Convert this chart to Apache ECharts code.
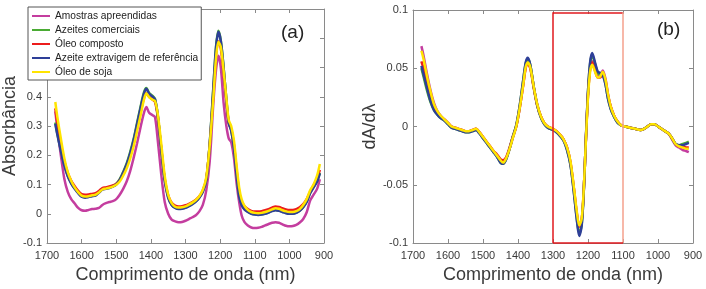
<!DOCTYPE html>
<html>
<head>
<meta charset="utf-8">
<script src="https://cdn.jsdelivr.net/npm/echarts@6/dist/echarts.min.js"></script>
<style>
html,body{margin:0;padding:0;background:#fff;}
#chart{width:706px;height:289px;}
</style>
</head>
<body>
<div id="chart"></div>
<script>
// ---------- DATA ----------
const seriesNames = ['Amostras apreendidas','Azeites comerciais','Óleo composto','Azeite extravigem de referência','Óleo de soja'];
const xTicks = [1700,1600,1500,1400,1300,1200,1100,1000,900];

// Panel (a): absorbance spectra
const wlA = [1676,1670,1660,1650,1640,1630,1620,1610,1600,1590,1580,1570,1560,1550,1540,1530,1520,1510,1500,1490,1480,1470,1460,1450,1440,1430,1420,1413,1405,1395,1388,1380,1370,1360,1350,1340,1330,1320,1310,1300,1290,1280,1270,1260,1250,1240,1230,1220,1212,1205,1198,1190,1182,1175,1168,1160,1152,1145,1138,1130,1120,1110,1100,1090,1080,1070,1060,1050,1040,1030,1020,1010,1000,990,980,970,960,950,940,930,920,912];
const absAmostras = [0.35,0.29,0.2,0.12,0.075,0.05,0.035,0.02,0.012,0.01,
0.013,0.016,0.017,0.02,0.03,0.036,0.04,0.043,0.05,0.065,
0.085,0.11,0.145,0.19,0.24,0.295,0.345,0.365,0.345,0.337,
0.33,0.25,0.135,0.04,0.0,-0.02,-0.026,-0.029,-0.028,-0.024,
-0.018,-0.012,-0.005,0.008,0.03,0.08,0.18,0.37,0.49,0.54,
0.5,0.38,0.3,0.257,0.245,0.19,0.1,0.04,-0.005,-0.028,
-0.04,-0.047,-0.049,-0.048,-0.045,-0.04,-0.035,-0.031,-0.029,-0.031,
-0.036,-0.041,-0.043,-0.042,-0.038,-0.03,-0.018,0.005,0.045,0.065,
0.085,0.118];
const absComerciais = [0.312,0.273,0.218,0.168,0.13,0.105,0.087,0.072,0.06,0.057,
0.059,0.062,0.064,0.075,0.085,0.088,0.09,0.095,0.102,0.118,
0.143,0.172,0.21,0.255,0.31,0.365,0.415,0.43,0.413,0.403,
0.393,0.335,0.22,0.115,0.056,0.031,0.021,0.017,0.018,0.021,
0.027,0.034,0.043,0.056,0.076,0.116,0.242,0.425,0.57,0.626,
0.592,0.5,0.39,0.31,0.285,0.225,0.13,0.062,0.032,0.017,
0.007,0.001,-0.002,-0.003,-0.002,0.001,0.005,0.01,0.013,0.011,
0.007,0.003,0.001,0.001,0.004,0.011,0.023,0.042,0.072,0.092,
0.112,0.14];
const absComposto = [0.36,0.31,0.24,0.18,0.14,0.113,0.094,0.078,0.067,0.065,
0.066,0.068,0.07,0.078,0.088,0.09,0.093,0.097,0.103,0.115,
0.136,0.163,0.197,0.24,0.293,0.345,0.395,0.413,0.4,0.39,
0.382,0.33,0.225,0.12,0.063,0.038,0.028,0.025,0.026,0.029,
0.034,0.04,0.048,0.06,0.08,0.12,0.235,0.4,0.54,0.59,
0.565,0.48,0.38,0.31,0.29,0.235,0.145,0.075,0.042,0.026,
0.016,0.01,0.008,0.008,0.009,0.012,0.016,0.021,0.025,0.023,
0.019,0.015,0.013,0.013,0.016,0.022,0.033,0.05,0.075,0.098,
0.12,0.15];
const absReferencia = [0.308,0.27,0.215,0.165,0.128,0.103,0.085,0.07,0.058,0.055,
0.057,0.06,0.062,0.072,0.082,0.085,0.088,0.093,0.1,0.115,
0.14,0.168,0.205,0.25,0.305,0.36,0.41,0.427,0.41,0.4,
0.39,0.335,0.22,0.115,0.055,0.03,0.02,0.016,0.017,0.02,
0.026,0.033,0.042,0.055,0.075,0.115,0.24,0.42,0.565,0.622,
0.59,0.5,0.39,0.31,0.285,0.225,0.13,0.06,0.03,0.015,
0.006,0.0,-0.003,-0.004,-0.003,0.0,0.004,0.009,0.012,0.01,
0.006,0.002,0.0,0.0,0.003,0.01,0.022,0.04,0.07,0.09,
0.11,0.138];
const absSoja = [0.382,0.33,0.257,0.19,0.142,0.112,0.09,0.074,0.062,0.059,
0.06,0.063,0.065,0.073,0.083,0.086,0.089,0.093,0.099,0.11,
0.13,0.155,0.188,0.23,0.282,0.335,0.39,0.412,0.398,0.39,
0.385,0.34,0.24,0.13,0.065,0.036,0.024,0.021,0.022,0.025,
0.031,0.038,0.047,0.06,0.082,0.125,0.235,0.39,0.53,0.588,
0.57,0.49,0.395,0.32,0.3,0.25,0.16,0.09,0.05,0.028,
0.013,0.006,0.003,0.002,0.003,0.006,0.01,0.015,0.019,0.017,
0.012,0.008,0.006,0.006,0.009,0.016,0.03,0.05,0.08,0.1,
0.13,0.17];

// Panel (b): first derivative
const wlB = [1676,1670,1660,1650,1640,1630,1620,1610,1600,1590,1580,1570,1560,1550,1540,1530,1520,1510,1500,1490,1480,1470,1460,1450,1443,1435,1425,1415,1405,1395,1385,1378,1372,1365,1355,1345,1335,1325,1315,1300,1290,1280,1270,1260,1250,1240,1232,1225,1218,1212,1206,1200,1194,1188,1180,1172,1165,1158,1150,1143,1135,1125,1115,1105,1095,1080,1065,1050,1040,1030,1020,1010,1000,990,980,970,960,950,940,930,920,912];
const derAmostras = [0.069,0.061,0.045,0.031,0.02,0.013,0.009,0.006,0.003,0.0,
-0.001,-0.002,-0.003,-0.004,-0.004,-0.003,-0.002,-0.005,-0.009,-0.013,
-0.017,-0.021,-0.025,-0.029,-0.031,-0.028,-0.02,-0.01,0.0,0.016,
0.036,0.051,0.055,0.051,0.034,0.019,0.009,0.003,0.0,-0.002,
-0.004,-0.007,-0.011,-0.018,-0.031,-0.054,-0.074,-0.085,-0.08,-0.054,
-0.011,0.027,0.05,0.056,0.049,0.044,0.044,0.048,0.041,0.028,
0.017,0.009,0.004,0.001,0.0,-0.001,-0.002,-0.003,-0.002,0.0,
0.002,0.002,0.0,-0.002,-0.004,-0.006,-0.011,-0.016,-0.018,-0.02,
-0.021,-0.022];
const derComerciais = [0.05,0.043,0.031,0.021,0.014,0.01,0.007,0.005,0.002,-0.001,
-0.002,-0.003,-0.004,-0.005,-0.005,-0.004,-0.003,-0.006,-0.01,-0.014,
-0.018,-0.022,-0.026,-0.031,-0.032,-0.029,-0.02,-0.009,0.001,0.018,
0.04,0.054,0.058,0.053,0.034,0.018,0.008,0.002,-0.001,-0.003,
-0.005,-0.008,-0.012,-0.02,-0.033,-0.057,-0.079,-0.092,-0.084,-0.055,
-0.01,0.03,0.054,0.061,0.054,0.046,0.045,0.045,0.036,0.024,
0.015,0.008,0.003,0.001,0.0,-0.001,-0.002,-0.003,-0.002,0.0,
0.002,0.002,0.0,-0.002,-0.004,-0.006,-0.01,-0.015,-0.016,-0.015,
-0.014,-0.013];
const derComposto = [0.056,0.05,0.038,0.026,0.017,0.012,0.008,0.006,0.003,0.0,
-0.001,-0.002,-0.003,-0.004,-0.004,-0.003,-0.002,-0.005,-0.009,-0.013,
-0.017,-0.021,-0.024,-0.028,-0.029,-0.027,-0.019,-0.009,0.0,0.016,
0.036,0.05,0.054,0.05,0.033,0.018,0.009,0.003,0.0,-0.002,
-0.004,-0.007,-0.011,-0.018,-0.031,-0.054,-0.075,-0.086,-0.08,-0.054,
-0.011,0.027,0.049,0.055,0.048,0.042,0.042,0.046,0.039,0.027,
0.017,0.009,0.004,0.001,0.0,-0.001,-0.002,-0.003,-0.002,0.0,
0.002,0.002,0.0,-0.002,-0.004,-0.006,-0.01,-0.015,-0.017,-0.017,
-0.018,-0.018];
const derReferencia = [0.052,0.045,0.033,0.022,0.014,0.01,0.007,0.005,0.002,-0.001,
-0.002,-0.003,-0.004,-0.005,-0.005,-0.004,-0.003,-0.006,-0.01,-0.014,
-0.018,-0.022,-0.026,-0.031,-0.032,-0.029,-0.02,-0.009,0.001,0.018,
0.04,0.055,0.059,0.053,0.034,0.018,0.008,0.002,-0.001,-0.003,
-0.005,-0.008,-0.012,-0.02,-0.033,-0.058,-0.08,-0.094,-0.085,-0.055,
-0.01,0.03,0.055,0.063,0.055,0.047,0.046,0.044,0.036,0.024,
0.015,0.008,0.003,0.001,0.0,-0.001,-0.002,-0.003,-0.002,0.0,
0.002,0.002,0.0,-0.002,-0.004,-0.006,-0.01,-0.015,-0.016,-0.016,
-0.015,-0.014];
const derSoja = [0.065,0.058,0.043,0.03,0.019,0.013,0.009,0.006,0.003,0.0,
-0.001,-0.002,-0.003,-0.004,-0.004,-0.003,-0.002,-0.005,-0.009,-0.013,
-0.017,-0.021,-0.025,-0.029,-0.031,-0.028,-0.02,-0.01,0.0,0.016,
0.036,0.051,0.055,0.051,0.034,0.019,0.009,0.003,0.0,-0.002,
-0.004,-0.007,-0.011,-0.018,-0.03,-0.053,-0.073,-0.085,-0.079,-0.053,
-0.012,0.025,0.047,0.053,0.047,0.042,0.043,0.047,0.04,0.028,
0.017,0.009,0.004,0.001,0.0,-0.001,-0.002,-0.003,-0.002,0.0,
0.002,0.002,0.0,-0.002,-0.004,-0.006,-0.01,-0.015,-0.017,-0.018,
-0.019,-0.019];

// Highlighted region in panel (b): [wavelength left, wavelength right, dA low, dA high]
const regionB = [1300, 1100, -0.1, 0.098];

// ---------- STYLE ----------
const colors = ['#c43d9f','#4aab34','#ec1c1c','#2e3f98','#ffe400'];
const FONT = 'Liberation Sans, Arial, sans-serif';
const axisGray = '#8a8a8a';
const textGray = '#3a3a3a';

function pairs(xs, ys){ return xs.map((x,i)=>[x, ys[i]]); }
function fmt(v){ return String(Math.round(v*1000)/1000); }
function fmtA(v){ return v > 0.45 ? '' : fmt(v); }

function xAxes(grid){
  const base = {gridIndex:grid, type:'value', min:900, max:1700, interval:100, inverse:true,
    splitLine:{show:false},
    axisLine:{onZero:false, lineStyle:{color:axisGray, width:1}},
    axisTick:{inside:true, length:4, lineStyle:{color:axisGray}}};
  return [
    Object.assign({}, base, {position:'bottom',
      name:'Comprimento de onda (nm)', nameLocation:'middle', nameGap:23,
      nameTextStyle:{fontSize:18, color:textGray, fontFamily:FONT},
      axisLabel:{fontSize:11, color:textGray, margin:7, fontFamily:FONT, formatter:(v)=>String(v)}}),
    Object.assign({}, base, {position:'top', axisLabel:{show:false}})
  ];
}
function yAxes(grid, min, max, interval, name, gap, formatter){
  const base = {gridIndex:grid, type:'value', min:min, max:max, interval:interval,
    splitLine:{show:false},
    axisLine:{onZero:false, lineStyle:{color:axisGray, width:1}},
    axisTick:{inside:true, length:4, lineStyle:{color:axisGray}}};
  return [
    Object.assign({}, base, {position:'left',
      name:name, nameLocation:'middle', nameGap:gap, nameRotate:90,
      nameTextStyle:{fontSize:18, color:textGray, fontFamily:FONT},
      axisLabel:{fontSize:11, color:textGray, margin:5, fontFamily:FONT, formatter:formatter}}),
    Object.assign({}, base, {position:'right', axisLabel:{show:false}})
  ];
}

const dataA = [absAmostras, absComerciais, absComposto, absReferencia, absSoja];
const dataB = [derAmostras, derComerciais, derComposto, derReferencia, derSoja];

const series = [];
dataA.forEach((d,i)=>series.push({
  name:seriesNames[i], type:'line', xAxisIndex:0, yAxisIndex:0,
  data:pairs(wlA,d), showSymbol:false, smooth:0.3, color:colors[i],
  lineStyle:{width:2.5, color:colors[i]}
}));
dataB.forEach((d,i)=>series.push({
  name:seriesNames[i], type:'line', xAxisIndex:2, yAxisIndex:2,
  data:pairs(wlB,d), showSymbol:false, smooth:0.3, color:colors[i],
  lineStyle:{width:2.5, color:colors[i]}
}));
// rectangle marking the region in panel (b)
series.push({
  name:'region', type:'line', xAxisIndex:2, yAxisIndex:2, data:[], silent:true,
  markLine:{silent:true, symbol:['none','none'], label:{show:false}, animation:false,
    lineStyle:{type:'solid', width:1.5, color:'#e0191e'},
    data:[
      [{coord:[regionB[0],regionB[2]], lineStyle:{color:'#e0191e', type:'solid', width:1.5}},{coord:[regionB[0],regionB[3]]}],
      [{coord:[regionB[0],regionB[3]], lineStyle:{color:'#e0191e', type:'solid', width:1.5}},{coord:[regionB[1],regionB[3]]}],
      [{coord:[regionB[1],regionB[3]], lineStyle:{color:'#f4a08c', type:'solid', width:1.5}},{coord:[regionB[1],regionB[2]]}],
      [{coord:[regionB[0],regionB[2]], lineStyle:{color:'#e0191e', type:'solid', width:1.5}},{coord:[regionB[1],regionB[2]]}]
    ]}
});

const chart = echarts.init(document.getElementById('chart'), null, {renderer:'canvas'});
chart.setOption({
  animation:false,
  backgroundColor:'#fff',
  textStyle:{fontFamily:FONT},
  title:[
    {text:'(a)', left:281, top:23, padding:0, textStyle:{fontSize:19, fontWeight:'normal', color:'#222', fontFamily:FONT}},
    {text:'(b)', left:657, top:20, padding:0, textStyle:{fontSize:19, fontWeight:'normal', color:'#222', fontFamily:FONT}}
  ],
  legend:{
    data:seriesNames, orient:'vertical', left:28, top:7,
    padding:[3,3,2,4], itemGap:2, itemWidth:18, itemHeight:2, itemTextGap:3,
    icon:'rect', backgroundColor:'#fff', borderColor:'#555', borderWidth:1,
    textStyle:{fontSize:10.2, lineHeight:12, color:'#222', fontFamily:FONT}
  },
  grid:[
    {left:47, top:9, width:277, height:236},
    {left:413, top:10, width:280, height:234}
  ],
  xAxis:[].concat(xAxes(0), xAxes(1)),
  yAxis:[].concat(yAxes(0,-0.1,0.7,0.1,'Absorbância',19,fmtA), yAxes(1,-0.1,0.1,0.05,'dA/dλ',25,fmt)),
  series:series
});
</script>
</body>
</html>
